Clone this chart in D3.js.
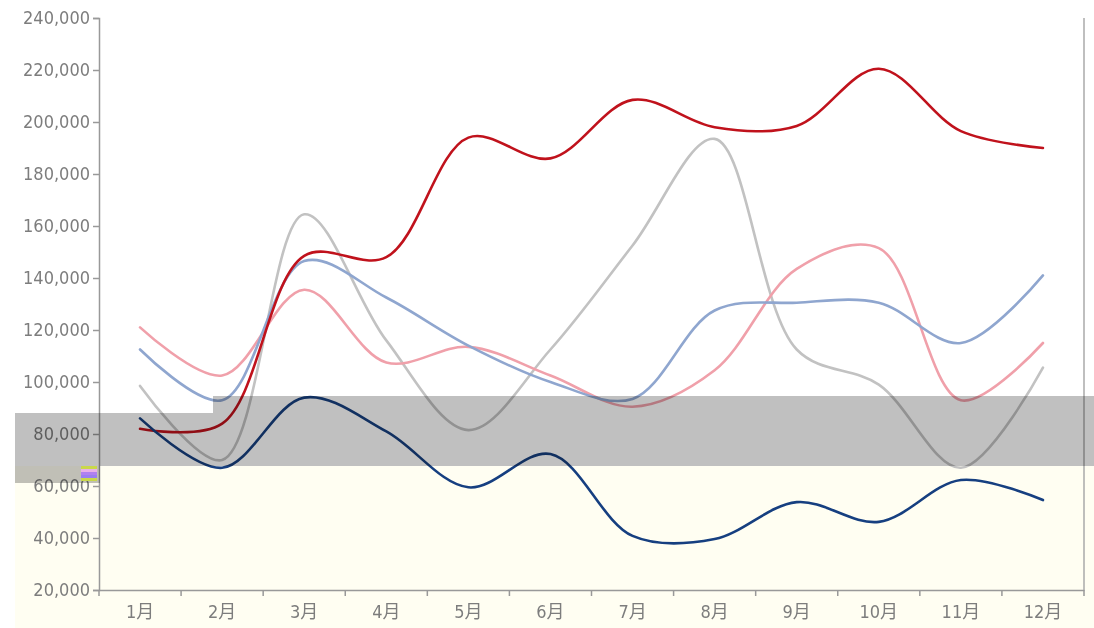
<!DOCTYPE html>
<html><head><meta charset="utf-8">
<script src="https://cdn.jsdelivr.net/npm/d3@7/dist/d3.min.js"></script>
<style>
html,body{margin:0;padding:0;background:#fff;}
svg{display:block;}
</style></head>
<body>
<svg id="c" width="1094" height="628"></svg>
<script>
const months = ["1月","2月","3月","4月","5月","6月","7月","8月","9月","10月","11月","12月"];
const yTicks = [20000,40000,60000,80000,100000,120000,140000,160000,180000,200000,220000,240000];
const seriesRed   = [82000, 84000, 148500, 148000, 194000, 186000, 208500, 198000, 198500, 220500, 196500, 190000];
const seriesPink  = [121000, 102500, 135500, 107500, 113500, 102500, 90500, 104500, 143500, 151500, 93000, 115000];
const seriesBlue  = [112500, 93000, 146500, 132500, 114000, 100000, 93500, 127500, 130500, 130500, 115000, 141000];
const seriesGray  = [98500, 70000, 164500, 116000, 81500, 112500, 152500, 193500, 112500, 99000, 67000, 105500];
const seriesNavy  = [86000, 67000, 94000, 81000, 59500, 72300, 40800, 39600, 53800, 46200, 62300, 54600];
const seriesColors = ["#c0121c", "#f0a0aa", "#8fa6cf", "#c2c2c2", "#163f80"];

const svg = d3.select("#c");
const mL = 99, mR = 1084, mT = 18, mB = 590;

const bg = svg.append("g");
bg.append("rect").attr("x",15).attr("y",466).attr("width",1079).attr("height",162).attr("fill","#fffef2");

const x = d3.scaleBand().domain(months).range([mL, mR]).paddingInner(0).paddingOuter(0);
const y = d3.scaleLinear().domain([20000, 240000]).range([mB, mT]);

const font = "'DejaVu Sans Condensed','Noto Sans CJK JP',sans-serif";

const yAxis = svg.append("g").attr("transform",`translate(${mL},0)`)
  .call(d3.axisLeft(y).tickValues(yTicks).tickSize(6).tickPadding(3).tickFormat(d3.format(",")));
yAxis.select(".domain").attr("stroke","#999").attr("stroke-width",1.5);
yAxis.selectAll(".tick line").attr("stroke","#999").attr("stroke-width",1.5);
yAxis.selectAll(".tick text").attr("fill","#7d7d7d").style("font-family",font).style("font-size","18px");

const xAxis = svg.append("g").attr("transform",`translate(0,${mB})`)
  .call(d3.axisBottom(x).tickSize(0).tickPadding(15));
xAxis.select(".domain").attr("stroke","#999").attr("stroke-width",1.5);
xAxis.selectAll(".tick text").attr("fill","#7d7d7d").style("font-family",font).style("font-size","18px");
const bounds = months.map(m => x(m)).concat([mR]);
svg.append("g").selectAll("line").data(bounds).join("line")
  .attr("x1",d=>d).attr("x2",d=>d).attr("y1",mB).attr("y2",mB+6)
  .attr("stroke","#999").attr("stroke-width",1.5);

svg.append("line").attr("x1",mR).attr("x2",mR).attr("y1",mT).attr("y2",mB)
  .attr("stroke","#aaa").attr("stroke-width",1.5);

const all = [seriesRed, seriesPink, seriesBlue, seriesGray, seriesNavy];
const order = [3, 1, 2, 0, 4];
const line = d3.line()
  .x((d,i) => x(months[i]) + x.bandwidth()/2)
  .y(d => y(d))
  .curve(d3.curveCatmullRom.alpha(0.5));
const lg = svg.append("g");
order.forEach(k => {
  lg.append("path").datum(all[k]).attr("d", line)
    .attr("fill","none").attr("stroke", seriesColors[k]).attr("stroke-width",2.6)
    .attr("stroke-linejoin","round").attr("stroke-linecap","round");
});

const ov = svg.append("g");
ov.append("rect").attr("x",213).attr("y",396).attr("width",881).attr("height",70).attr("fill","#c0c0c0").style("mix-blend-mode","multiply");
ov.append("rect").attr("x",100).attr("y",413).attr("width",113).attr("height",53).attr("fill","#c0c0c0").style("mix-blend-mode","multiply");
ov.append("rect").attr("x",15).attr("y",413).attr("width",85).attr("height",70).attr("fill","#c0c0c0").style("mix-blend-mode","multiply");

const gl = svg.append("g");
[["#c9d84a",466],["#e8b0e8",469],["#b080f0",472],["#9a7ff0",475],["#c9d84a",478]].forEach(([c,yy])=>{
  gl.append("rect").attr("x",81).attr("y",yy).attr("width",16).attr("height",3).attr("fill",c);
});
</script>
</body></html>
